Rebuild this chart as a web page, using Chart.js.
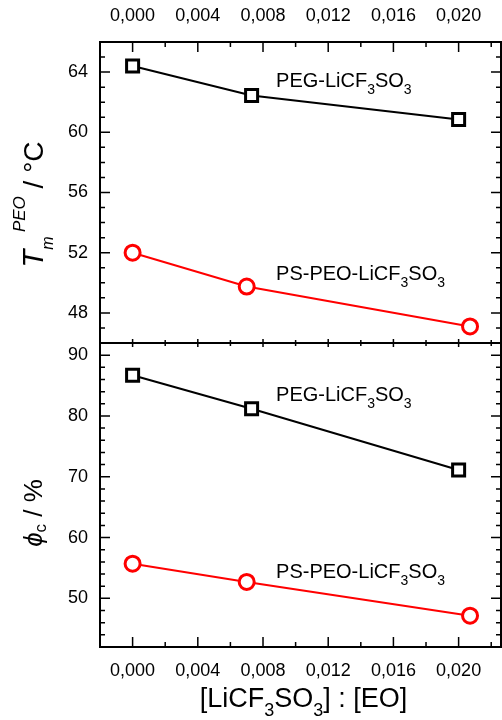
<!DOCTYPE html>
<html>
<head>
<meta charset="utf-8">
<script src="https://cdn.jsdelivr.net/npm/chart.js@4.4.0/dist/chart.umd.min.js"></script>
<style>
  body { margin: 0; background: #fff; }
  canvas { display: block; }
</style>
</head>
<body>
<canvas id="chart" width="502" height="720"></canvas>
<script>
// salt : EO ratio
const ratioPEG = [0.0000, 0.0073, 0.0200]
const ratioPSPEO = [0.0000, 0.0070, 0.0207]

// melting temperature of PEO, °C (top panel)
const tmPEG = [64.4, 62.45, 60.85]
const tmPSPEO = [52.0, 49.75, 47.1]

// crystallinity, % (bottom panel)
const phiPEG = [86.7, 81.2, 71.1]
const phiPSPEO = [55.7, 52.7, 47.15]

const xTicks = [0, 0.004, 0.008, 0.012, 0.016, 0.020]
const tmTicks = [48, 52, 56, 60, 64]
const phiTicks = [50, 60, 70, 80, 90]

const BLACK = '#000000'
const RED = '#ff0000'

function pts(xs, ys){
    let out = []
    for (let i = 0; i < xs.length; i++) out.push({x: xs[i], y: ys[i]})
    return out
}

function fmtX(v){
    return v.toFixed(3).replace('.', ',')
}

function setTicks(list){
    return function(scale){
        scale.ticks = list.map(v => ({value: v}))
    }
}

function noPad(s){
    s.paddingLeft = 0
    s.paddingRight = 0
    s.paddingTop = 0
    s.paddingBottom = 0
}

// draw a run of [text, font, dy] pieces left to right from x
function drawRuns(ctx, runs, x, y){
    for (const r of runs){
        ctx.font = r[1]
        ctx.fillText(r[0], x, y + r[2])
        x += ctx.measureText(r[0]).width
    }
    return x
}

function runsWidth(ctx, runs){
    let w = 0
    for (const r of runs){
        ctx.font = r[1]
        w += ctx.measureText(r[0]).width
    }
    return w
}

const F = '"Liberation Sans", Arial, sans-serif'

const framePlugin = {
    id: 'frame',
    afterDraw(chart){
        const ctx = chart.ctx
        const a = chart.chartArea
        const x = chart.scales.x
        const yT = chart.scales.yT
        const yB = chart.scales.yB
        const midY = yT.bottom

        ctx.save()
        ctx.strokeStyle = BLACK
        ctx.lineWidth = 2
        ctx.strokeRect(a.left, a.top, a.right - a.left, a.bottom - a.top)
        ctx.beginPath()
        ctx.moveTo(a.left, midY)
        ctx.lineTo(a.right, midY)
        ctx.stroke()

        ctx.lineWidth = 1.5
        ctx.beginPath()
        // x ticks
        for (let i = -1; i <= 11; i++){
            const v = i * 0.002
            const px = x.getPixelForValue(v)
            if (px < a.left + 1 || px > a.right - 1) continue
            const major = i % 2 === 0 && i >= 0
            const len = major ? 10 : 5
            ctx.moveTo(px, a.top); ctx.lineTo(px, a.top + len)
            ctx.moveTo(px, a.bottom); ctx.lineTo(px, a.bottom - len)
            const m = major ? 4 : 3
            ctx.moveTo(px, midY - m); ctx.lineTo(px, midY + m)
        }
        // top panel y ticks
        for (let v = 47; v <= 65; v++){
            const py = yT.getPixelForValue(v)
            const len = (v % 4 === 0) ? 10 : 5
            ctx.moveTo(a.left, py); ctx.lineTo(a.left + len, py)
            ctx.moveTo(a.right, py); ctx.lineTo(a.right - len, py)
        }
        // bottom panel y ticks
        for (let v = 44; v <= 90; v += 2){
            const py = yB.getPixelForValue(v)
            const len = (v % 10 === 0) ? 10 : 5
            ctx.moveTo(a.left, py); ctx.lineTo(a.left + len, py)
            ctx.moveTo(a.right, py); ctx.lineTo(a.right - len, py)
        }
        ctx.stroke()

        ctx.fillStyle = BLACK
        ctx.textAlign = 'left'
        ctx.textBaseline = 'alphabetic'

        // series labels
        const pegRuns = [['PEG-LiCF', '20px ' + F, 0], ['3', '14px ' + F, 7], ['SO', '20px ' + F, 0], ['3', '14px ' + F, 7]]
        const psRuns = [['PS-PEO-LiCF', '20px ' + F, 0], ['3', '14px ' + F, 7], ['SO', '20px ' + F, 0], ['3', '14px ' + F, 7]]
        const lx = x.getPixelForValue(0.0088)
        drawRuns(ctx, pegRuns, lx, yT.getPixelForValue(63.0))
        drawRuns(ctx, psRuns, lx, yT.getPixelForValue(50.2))
        drawRuns(ctx, pegRuns, lx, yB.getPixelForValue(82.5))
        drawRuns(ctx, psRuns, lx, yB.getPixelForValue(53.3))

        // x axis title
        const xRuns = [['[LiCF', '27px ' + F, 0], ['3', '18px ' + F, 9], ['SO', '27px ' + F, 0], ['3', '18px ' + F, 9], ['] : [EO]', '27px ' + F, 0]]
        const xw = runsWidth(ctx, xRuns)
        drawRuns(ctx, xRuns, (a.left + a.right) / 2 + 3 - xw / 2, 707)

        // top y title
        const tRuns = [['T', 'italic 29px ' + F, 0], ['m', 'italic 16px ' + F, 10], [' ', '16px ' + F, 0], ['PEO', 'italic 17px ' + F, -18], [' / °C', '28px ' + F, 0]]
        ctx.save()
        ctx.translate(43, (yT.top + yT.bottom) / 2 + 12)
        ctx.rotate(-Math.PI / 2)
        const tw = runsWidth(ctx, tRuns)
        drawRuns(ctx, tRuns, -tw / 2, 0)
        ctx.restore()

        // bottom y title
        const pRuns = [['ϕ', 'italic 26px ' + F, 0], ['c', '17px ' + F, 4], [' / %', '26px ' + F, 0]]
        ctx.save()
        ctx.translate(42, 513)
        ctx.rotate(-Math.PI / 2)
        const pw = runsWidth(ctx, pRuns)
        drawRuns(ctx, pRuns, -pw / 2, 0)
        ctx.restore()

        ctx.restore()
    }
}

function series(data, color, style, yId){
    return {
        data: data,
        xAxisID: 'x',
        yAxisID: yId,
        borderColor: color,
        borderWidth: 2,
        pointStyle: style,
        pointRadius: style === 'rect' ? 8.5 : 7.5,
        pointBorderWidth: 3,
        pointBorderColor: color,
        pointBackgroundColor: '#ffffff',
        pointHoverRadius: 8,
        showLine: true,
        clip: false,
        tension: 0
    }
}

const xCommon = {
    type: 'linear',
    min: -0.002,
    max: 0.0226,
    afterBuildTicks: setTicks(xTicks),
    grid: {display: false, drawTicks: false},
    border: {display: false},
    ticks: {color: BLACK, font: {family: F, size: 18}, callback: fmtX, maxRotation: 0, autoSkip: false}
}

const config = {
    type: 'scatter',
    data: {
        datasets: [
            series(pts(ratioPEG, tmPEG), BLACK, 'rect', 'yT'),
            series(pts(ratioPSPEO, tmPSPEO), RED, 'circle', 'yT'),
            series(pts(ratioPEG, phiPEG), BLACK, 'rect', 'yB'),
            series(pts(ratioPSPEO, phiPSPEO), RED, 'circle', 'yB')
        ]
    },
    options: {
        responsive: false,
        animation: false,
        devicePixelRatio: 1,
        layout: {autoPadding: false, padding: {left: 0, right: 1, top: 0, bottom: 0}},
        plugins: {legend: {display: false}, tooltip: {enabled: false}},
        scales: {
            x: Object.assign({}, xCommon, {
                position: 'bottom',
                ticks: Object.assign({}, xCommon.ticks, {padding: 13}),
                afterFit(s){ s.height = 73; noPad(s) }
            }),
            x2: Object.assign({}, xCommon, {
                position: 'top',
                ticks: Object.assign({}, xCommon.ticks, {padding: 15}),
                afterFit(s){ s.height = 42; noPad(s) }
            }),
            yB: {
                type: 'linear',
                position: 'left',
                stack: 'panels',
                stackWeight: 304,
                min: 42,
                max: 92,
                afterBuildTicks: setTicks(phiTicks),
                grid: {display: false, drawTicks: false},
                border: {display: false},
                ticks: {color: BLACK, font: {family: F, size: 18}, padding: 12},
                afterFit(s){ s.width = 100; noPad(s) }
            },
            yT: {
                type: 'linear',
                position: 'left',
                stack: 'panels',
                stackWeight: 301,
                min: 46,
                max: 66,
                afterBuildTicks: setTicks(tmTicks),
                grid: {display: false, drawTicks: false},
                border: {display: false},
                ticks: {color: BLACK, font: {family: F, size: 18}, padding: 12},
                afterFit(s){ s.width = 100; noPad(s) }
            }
        }
    },
    plugins: [framePlugin]
}

let ctx = document.getElementById('chart').getContext('2d')
new Chart(ctx, config)
</script>
</body>
</html>
